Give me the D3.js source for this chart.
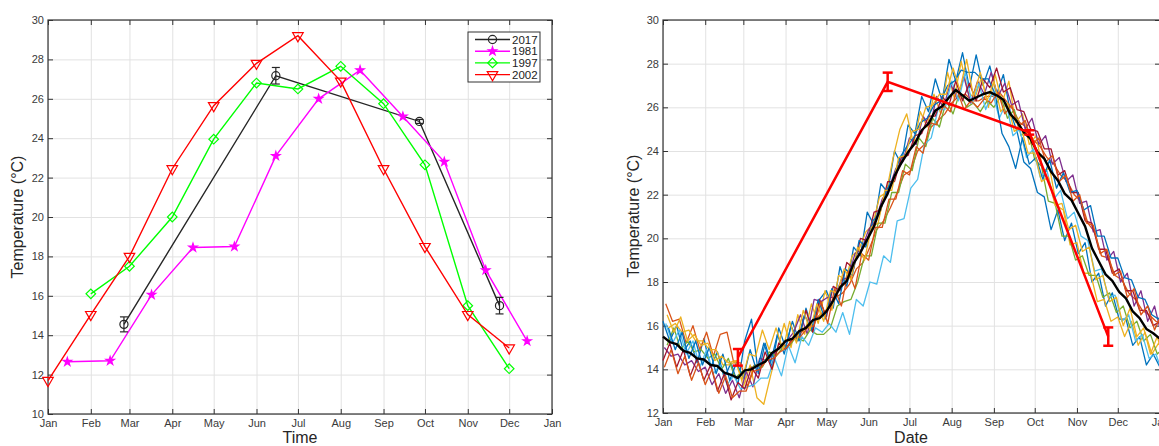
<!DOCTYPE html>
<html>
<head>
<meta charset="utf-8">
<script src="https://cdn.jsdelivr.net/npm/d3@7"></script>
<style>
  body { margin: 0; background: #fff; }
  svg { display: block; }
</style>
</head>
<body>
<svg width="1159" height="446"></svg>
<script>
const svg = d3.select("svg");
const FONT = "'Liberation Sans', Arial, Helvetica, sans-serif";

// ---- left panel: monthly values (day of year, temperature) ----
const monthStartDays = [0, 31, 59, 90, 120, 151, 181, 212, 243, 273, 304, 334];
const midMonthDays = [14, 45, 75, 105, 135, 165, 196, 226, 257, 287, 317, 347];

const days2017 = [55, 165, 269, 327];
const temp2017 = [14.55, 27.17, 24.85, 15.5];
const err2017 = [0.38, 0.42, 0.1, 0.42];

const temp1981 = [12.65, 12.7, 16.05, 18.45, 18.5, 23.1, 26.0, 27.45, 25.1, 22.8, 17.3, 13.7];
const days1997 = monthStartDays.slice(1);
const temp1997 = [16.1, 17.5, 20.0, 23.95, 26.8, 26.5, 27.65, 25.75, 22.65, 15.5, 12.3];
const temp2002 = [11.7, 15.05, 18.0, 22.45, 25.65, 27.8, 29.2, 26.9, 22.45, 18.5, 15.05, 13.35];

const legendNames = ["2017", "1981", "1997", "2002"];

// ---- right panel: daily records, one value every 5 days ----
// each record starts on its own day of the first week
const recordStartDay = [0, 2, 4, 1, 3, 2, 0, 4, 1, 3];

const yearlyRecords = [
  [16.2,15.3,16.0,14.8,15.3,14.3,15.4,14.1,14.8,13.6, 14.3,13.3,15.3,16.3,13.8,15.2,14.1,15.9,15.0,16.2,
   15.3,16.8,15.8,17.2,17.6,16.8,18.7,17.8,19.6,19.2, 21.2,20.6,22.5,22.1,24.0,23.4,25.2,24.8,26.5,25.8,
   27.3,26.3,28.2,27.2,28.5,26.9,28.4,27.0,27.9,26.6, 27.5,25.8,24.9,23.5,23.2,22.1,21.9,20.4,21.3,19.9,
   20.7,19.3,19.8,18.0,18.4,16.9,17.5,16.3,16.3,15.1, 15.5,14.2,14.7,14.1],
  [17.0,16.2,16.3,15.2,16.0,14.9,15.7,14.6,15.6,15.7, 14.3,14.3,13.2,14.2,14.1,14.5,14.7,15.1,15.1,15.5,
   15.7,16.1,16.3,16.6,16.8,17.3,17.5,17.9,18.6,18.9, 19.6,20.4,20.8,21.4,22.1,22.9,23.1,24.0,24.3,25.1,
   25.4,25.7,26.2,26.5,26.6,26.3,26.3,26.5,26.5,26.7, 26.3,25.9,25.3,25.1,24.5,24.2,23.7,23.4,22.9,22.6,
   22.0,21.7,20.7,20.3,19.2,19.1,18.3,18.1,17.5,17.2, 16.7,16.5,16.2,16.1],
  [15.9,16.1,15.7,15.8,15.3,15.3,14.9,14.9,14.2,14.2, 14.4,13.2,14.2,12.7,12.4,13.7,14.9,16.1,15.0,16.5,
   15.6,17.0,16.1,17.6,16.7,18.3,18.1,19.2,19.5,20.3, 20.6,21.9,22.1,23.7,25.0,25.7,24.3,25.8,25.1,26.6,
   25.7,27.6,26.4,28.1,26.7,26.4,27.4,26.0,27.5,26.2, 27.2,25.3,25.7,24.3,24.7,23.1,23.2,21.5,21.3,19.7,
   19.8,18.4,18.4,17.1,17.2,16.2,16.4,15.5,16.2,15.1, 15.7,14.7,15.2,14.5],
  [15.0,14.6,14.7,14.2,14.4,13.9,14.1,13.3,13.8,12.9, 13.5,12.7,13.9,13.2,14.5,14.4,14.7,15.0,15.3,15.7,
   16.5,15.6,17.2,17.1,17.3,17.3,18.1,18.2,19.3,19.5, 20.4,20.8,21.8,22.3,23.2,23.5,24.6,24.3,25.6,25.1,
   26.5,26.0,27.1,26.4,27.4,26.2,27.2,26.6,27.6,26.5, 27.1,26.1,26.3,25.0,25.5,24.3,24.7,23.4,23.7,22.6,
   22.9,21.6,21.7,20.3,20.4,19.0,19.4,18.0,18.4,16.9, 17.6,16.2,16.9,15.6],
  [15.1,15.9,14.9,15.3,14.8,14.9,14.5,14.7,14.0,14.5, 13.6,13.9,14.0,14.2,14.1,14.8,14.6,15.0,15.1,15.5,
   15.3,15.8,15.6,15.6,15.9,16.9,17.1,17.2,18.0,19.2, 19.2,20.7,20.7,22.1,22.1,23.4,23.1,24.6,24.2,25.5,
   25.1,26.3,25.7,26.7,26.0,26.2,25.8,26.3,26.0,26.5, 25.5,25.9,24.7,25.0,23.6,23.3,21.7,21.6,20.1,20.1,
   19.0,19.2,18.3,18.3,17.3,17.5,16.6,16.9,15.9,16.2, 15.3,15.6,14.7,15.0],
  [16.1,15.2,15.8,14.7,15.3,14.1,14.9,13.8,14.2,13.3, 13.7,13.1,13.2,13.3,13.6,13.6,14.5,13.7,15.1,14.3,
   15.5,15.1,15.9,15.7,16.1,15.7,16.6,15.6,17.2,16.9, 18.0,17.9,19.2,18.9,20.8,20.9,22.3,22.7,24.3,24.6,
   25.9,25.9,27.2,26.3,27.6,26.2,27.1,25.9,26.7,25.5, 26.2,24.7,25.0,23.7,24.1,22.8,23.1,21.8,22.2,20.9,
   21.2,20.1,19.9,18.5,18.6,17.3,17.4,16.2,16.5,15.3, 15.6,14.5,14.7,13.8],
  [14.4,15.2,14.1,14.9,13.7,14.5,13.5,14.2,13.0,13.8, 12.6,13.4,13.1,14.1,13.6,14.8,14.0,15.2,14.9,15.4,
   15.5,16.7,15.7,17.2,16.4,17.8,17.6,18.9,18.6,20.0, 19.9,21.2,21.3,22.6,22.6,23.7,23.8,24.7,24.8,25.6,
   25.6,26.5,26.1,27.2,26.3,27.1,26.3,27.3,26.9,27.8, 26.7,26.9,25.9,25.8,25.0,24.9,24.1,24.1,22.9,23.1,
   22.1,22.1,20.8,20.7,19.5,19.5,18.4,18.6,17.6,17.6, 16.7,16.7,16.0,16.2],
  [15.9,14.9,15.7,14.5,15.3,14.2,15.0,13.8,14.7,13.5, 14.3,13.6,14.9,13.9,15.2,14.3,15.6,14.7,16.0,15.3,
   16.5,15.8,17.2,16.3,17.7,17.0,18.6,18.3,19.9,19.6, 20.8,21.1,22.2,22.7,23.7,24.2,24.6,25.3,25.5,26.1,
   26.3,27.0,27.2,27.7,27.6,27.6,27.3,27.3,26.6,24.8, 24.2,23.2,24.6,23.4,23.7,22.7,23.6,22.3,23.0,22.1,
   22.2,21.3,21.5,20.1,20.1,19.1,19.1,18.2,18.1,17.3, 17.2,16.5,16.3,17.0],
  [14.1,14.9,13.8,14.6,13.5,14.3,13.3,14.0,12.9,13.7, 12.7,13.0,13.0,13.9,14.0,14.4,14.5,14.8,15.0,15.4,
   15.5,15.9,16.0,17.1,16.1,17.7,16.9,18.5,17.7,19.3, 19.0,20.5,20.5,21.8,21.8,23.1,22.9,24.2,23.9,25.3,
   25.2,26.1,25.8,26.8,25.9,26.3,26.0,26.4,26.2,26.7, 25.7,26.1,25.1,25.4,24.3,24.6,23.5,23.8,22.6,22.9,
   21.7,22.0,20.7,20.6,19.3,19.5,18.3,18.5,17.3,17.7, 16.5,16.9,15.8,16.5],
  [16.5,15.7,16.4,15.3,15.6,15.1,15.2,14.4,14.6,14.3, 14.4,13.5,14.7,14.6,15.8,14.9,15.9,14.9,16.2,15.2,
   16.7,15.8,17.0,16.2,17.6,17.5,18.6,18.1,19.6,19.0, 20.5,20.7,22.2,22.2,23.7,23.8,24.9,25.0,26.0,26.1,
   26.6,26.6,27.8,26.8,28.2,26.5,27.6,26.3,27.2,25.8, 26.2,24.9,25.1,23.9,23.9,22.6,22.8,21.5,21.6,20.4,
   20.6,19.4,19.6,18.1,18.3,17.1,17.3,16.0,16.8,15.5, 15.9,14.7,15.5,14.4]
];
const yearlyColors = ["#0072BD", "#D95319", "#EDB120", "#7E2F8E", "#77AC30",
                      "#4DBEEE", "#A2142F", "#0072BD", "#D95319", "#EDB120"];

const meanRecord = [
  15.5,15.25,15.15,14.85,14.75,14.5,14.45,14.2,14.15,13.85, 13.75,13.6,13.95,14.0,14.2,14.35,14.75,14.95,15.3,15.4,
  15.75,15.9,16.25,16.35,16.65,17.15,17.75,18.05,18.85,19.35, 19.95,20.55,21.45,22.05,22.85,23.45,23.95,24.35,24.95,25.25,
  25.85,26.05,26.45,26.8,26.55,26.3,26.45,26.6,26.7,26.55, 26.35,25.7,25.35,24.85,24.55,23.95,23.65,23.05,22.65,22.05,
  21.75,21.15,20.55,19.55,18.95,18.35,18.05,17.55,17.25,16.65, 16.35,15.85,15.65,15.4
];

// ---- helpers ----
const yearStart = new Date(Date.UTC(2017, 0, 1));
const yearEnd = new Date(Date.UTC(2018, 0, 1));
const dayDate = (d) => d3.utcDay.offset(yearStart, d);

function makePanel(left, right, top, bottom, yDomain, yTicks) {
  const x = d3.scaleUtc().domain([yearStart, yearEnd]).range([left, right]);
  const y = d3.scaleLinear().domain(yDomain).range([bottom, top]);
  const g = svg.append("g");
  const months = d3.utcMonth.every(1);

  // grid
  const gx = g.append("g").attr("transform", `translate(0,${bottom})`)
    .call(d3.axisBottom(x).ticks(months).tickSize(-(bottom - top)).tickFormat(""));
  const gy = g.append("g").attr("transform", `translate(${left},0)`)
    .call(d3.axisLeft(y).tickValues(yTicks).tickSize(-(right - left)).tickFormat(""));
  [gx, gy].forEach((s) => {
    s.select(".domain").remove();
    s.selectAll("line").attr("stroke", "#e2e2e2").attr("stroke-width", 1);
  });

  // axes with inward ticks
  const ax = [
    g.append("g").attr("transform", `translate(0,${bottom})`)
      .call(d3.axisBottom(x).ticks(months).tickFormat(d3.utcFormat("%b")).tickSizeInner(-5).tickSizeOuter(0).tickPadding(5)),
    g.append("g").attr("transform", `translate(0,${top})`)
      .call(d3.axisTop(x).ticks(months).tickFormat("").tickSizeInner(-5).tickSizeOuter(0)),
    g.append("g").attr("transform", `translate(${left},0)`)
      .call(d3.axisLeft(y).tickValues(yTicks).tickSizeInner(-5).tickSizeOuter(0).tickPadding(4)),
    g.append("g").attr("transform", `translate(${right},0)`)
      .call(d3.axisRight(y).tickValues(yTicks).tickFormat("").tickSizeInner(-5).tickSizeOuter(0))
  ];
  ax.forEach((s) => {
    s.select(".domain").remove();
    s.attr("font-family", FONT).attr("font-size", 11);
    s.selectAll("line").attr("stroke", "#333").attr("stroke-width", 1);
    s.selectAll("text").attr("fill", "#3a3a3a");
  });

  g.append("rect")
    .attr("x", left).attr("y", top)
    .attr("width", right - left).attr("height", bottom - top)
    .attr("fill", "none").attr("stroke", "#333").attr("stroke-width", 1.2);

  return { x, y, g };
}

function markerPath(type) {
  if (type === "circle") return d3.symbol().type(d3.symbolCircle).size(52)();
  if (type === "star") return d3.symbol().type(d3.symbolStar).size(22)();
  if (type === "diamond") return d3.symbol().type(d3.symbolSquare).size(46)();
  return d3.symbol().type(d3.symbolTriangle).size(48)();
}
const markerRotate = { circle: 0, star: 0, diamond: 45, triangle: 180 };

// ================= left panel =================
const L = makePanel(48, 552, 20, 414, [10, 30], d3.range(10, 31, 2));

const leftSeries = [
  { name: "2017", color: "#262626", marker: "circle", fill: "none", days: days2017, temps: temp2017 },
  { name: "1981", color: "#ff00ff", marker: "star", fill: "#ff00ff", days: midMonthDays, temps: temp1981 },
  { name: "1997", color: "#00ff00", marker: "diamond", fill: "none", days: days1997, temps: temp1997 },
  { name: "2002", color: "#ff0000", marker: "triangle", fill: "none", days: monthStartDays, temps: temp2002 }
];

const leftLine = d3.line().x((d) => L.x(dayDate(d[0]))).y((d) => L.y(d[1]));

leftSeries.forEach((s) => {
  const pts = s.days.map((d, i) => [d, s.temps[i]]);
  L.g.append("path").datum(pts)
    .attr("d", leftLine).attr("fill", "none")
    .attr("stroke", s.color).attr("stroke-width", 1.4);
  L.g.selectAll(null).data(pts).enter().append("path")
    .attr("d", markerPath(s.marker))
    .attr("transform", (d) => `translate(${L.x(dayDate(d[0]))},${L.y(d[1])}) rotate(${markerRotate[s.marker]})`)
    .attr("fill", s.fill).attr("stroke", s.color).attr("stroke-width", 1.2);
});

// error bars for 2017
days2017.forEach((d, i) => {
  const cx = L.x(dayDate(d));
  const y0 = L.y(temp2017[i] - err2017[i]);
  const y1 = L.y(temp2017[i] + err2017[i]);
  const eb = L.g.append("g").attr("stroke", "#262626").attr("stroke-width", 1.2);
  eb.append("line").attr("x1", cx).attr("x2", cx).attr("y1", y0).attr("y2", y1);
  eb.append("line").attr("x1", cx - 4).attr("x2", cx + 4).attr("y1", y0).attr("y2", y0);
  eb.append("line").attr("x1", cx - 4).attr("x2", cx + 4).attr("y1", y1).attr("y2", y1);
});

// legend
const lg = L.g.append("g").attr("transform", "translate(468,32)");
lg.append("rect").attr("width", 72).attr("height", 50)
  .attr("fill", "#fff").attr("stroke", "#333").attr("stroke-width", 1);
leftSeries.forEach((s, i) => {
  const cy = 7.5 + i * 11.7;
  lg.append("line").attr("x1", 7).attr("x2", 42).attr("y1", cy).attr("y2", cy)
    .attr("stroke", s.color).attr("stroke-width", 1.4);
  lg.append("path").attr("d", markerPath(s.marker))
    .attr("transform", `translate(24.5,${cy}) rotate(${markerRotate[s.marker]})`)
    .attr("fill", s.fill).attr("stroke", s.color).attr("stroke-width", 1.2);
  lg.append("text").text(legendNames[i])
    .attr("x", 44).attr("y", cy).attr("dy", "0.36em")
    .attr("font-family", FONT).attr("font-size", 11.5).attr("fill", "#222");
});

svg.append("text").text("Temperature (°C)")
  .attr("transform", "translate(23,217) rotate(-90)")
  .attr("text-anchor", "middle").attr("font-family", FONT).attr("font-size", 16).attr("fill", "#262626");
svg.append("text").text("Time")
  .attr("x", 300).attr("y", 443).attr("text-anchor", "middle")
  .attr("font-family", FONT).attr("font-size", 16).attr("fill", "#262626");

// ================= right panel =================
const R = makePanel(663, 1160, 20, 413, [12, 30], d3.range(12, 31, 2));

const rightLine = d3.line().x((d) => R.x(dayDate(d[0]))).y((d) => R.y(d[1]));

yearlyRecords.forEach((rec, k) => {
  const pts = rec.map((v, i) => [recordStartDay[k] + i * 5, v]);
  R.g.append("path").datum(pts)
    .attr("d", rightLine).attr("fill", "none")
    .attr("stroke", yearlyColors[k]).attr("stroke-width", 1.3)
    .attr("stroke-linejoin", "round");
});

R.g.append("path").datum(meanRecord.map((v, i) => [i * 5, v]))
  .attr("d", rightLine).attr("fill", "none")
  .attr("stroke", "#000").attr("stroke-width", 2.4).attr("stroke-linejoin", "round");

R.g.append("path").datum(days2017.map((d, i) => [d, temp2017[i]]))
  .attr("d", rightLine).attr("fill", "none")
  .attr("stroke", "#ff0000").attr("stroke-width", 2.5);

days2017.forEach((d, i) => {
  const cx = R.x(dayDate(d));
  const y0 = R.y(temp2017[i] - err2017[i]);
  const y1 = R.y(temp2017[i] + err2017[i]);
  const eb = R.g.append("g").attr("stroke", "#ff0000").attr("stroke-width", 2.5);
  eb.append("line").attr("x1", cx).attr("x2", cx).attr("y1", y0).attr("y2", y1);
  eb.append("line").attr("x1", cx - 5).attr("x2", cx + 5).attr("y1", y0).attr("y2", y0);
  eb.append("line").attr("x1", cx - 5).attr("x2", cx + 5).attr("y1", y1).attr("y2", y1);
});

svg.append("text").text("Temperature (°C)")
  .attr("transform", "translate(639,216) rotate(-90)")
  .attr("text-anchor", "middle").attr("font-family", FONT).attr("font-size", 16).attr("fill", "#262626");
svg.append("text").text("Date")
  .attr("x", 911).attr("y", 443).attr("text-anchor", "middle")
  .attr("font-family", FONT).attr("font-size", 16).attr("fill", "#262626");
</script>
</body>
</html>
